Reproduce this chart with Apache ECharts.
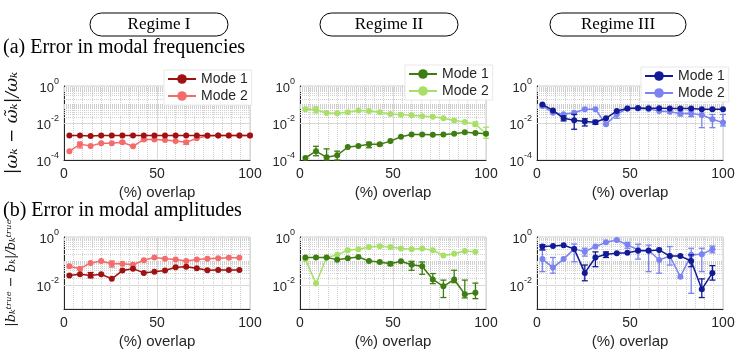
<!DOCTYPE html>
<html>
<head>
<meta charset="utf-8">
<script src="https://cdn.jsdelivr.net/npm/echarts@6/dist/echarts.min.js"></script>
<style>
  html, body { margin: 0; padding: 0; background: #fff; }
  #chart { width: 747px; height: 363px; }
</style>
</head>
<body>
<div id="chart"></div>
<script>
// x positions (% overlap)
const overlapFreq = [2.9, 8.6, 14.3, 20.0, 25.7, 31.4, 37.1, 42.9, 48.6, 54.3, 60.0, 65.7, 71.4, 77.1, 82.9, 88.6, 94.3, 100];
const overlapAmp = [2.9, 8.6, 14.3, 20.0, 25.7, 31.4, 37.1, 42.9, 48.6, 54.3, 60.0, 65.7, 71.4, 77.1, 82.9, 88.6, 94.3];

const regimes = ['Regime I', 'Regime II', 'Regime III'];
const modeNames = ['Mode 1', 'Mode 2'];

// (a) error in modal frequencies
const freqR1M1 = [0.0021, 0.0021, 0.002, 0.0021, 0.0021, 0.0021, 0.0021, 0.0021, 0.0021, 0.0021, 0.0021, 0.0021, 0.0021, 0.0021, 0.0021, 0.0021, 0.0021, 0.0021];
const freqR1M2 = [0.0003, 0.0007, 0.00058, 0.0008, 0.0008, 0.0009, 0.00055, 0.0013, 0.0013, 0.0012, 0.00105, 0.0009, 0.0015, 0.002, 0.0021, 0.0021, 0.0021, 0.0021];
const freqR2M1 = [0.00013, 0.0003, 0.00014, 0.00018, 0.0005, 0.00057, 0.0007, 0.0007, 0.00105, 0.0018, 0.0024, 0.0024, 0.0023, 0.0024, 0.0026, 0.0032, 0.0029, 0.0026];
const freqR2M2 = [0.055, 0.052, 0.035, 0.034, 0.038, 0.048, 0.044, 0.038, 0.031, 0.028, 0.026, 0.023, 0.022, 0.018, 0.0135, 0.0115, 0.0085, 0.0027];
const freqR3M1 = [0.10, 0.048, 0.018, 0.014, 0.012, 0.011, 0.018, 0.045, 0.06, 0.065, 0.062, 0.062, 0.06, 0.06, 0.06, 0.055, 0.055, 0.055];
const freqR3M2 = [0.083, 0.036, 0.03, 0.036, 0.055, 0.055, 0.0085, 0.03, 0.06, 0.06, 0.058, 0.045, 0.04, 0.033, 0.033, 0.027, 0.016, 0.0105];

// (b) error in modal amplitudes
const ampR1M1 = [0.025, 0.028, 0.025, 0.028, 0.018, 0.04, 0.048, 0.032, 0.036, 0.04, 0.055, 0.058, 0.05, 0.041, 0.042, 0.042, 0.042];
const ampR1M2 = [0.06, 0.048, 0.083, 0.1, 0.077, 0.077, 0.07, 0.107, 0.14, 0.125, 0.115, 0.1, 0.115, 0.125, 0.13, 0.135, 0.135];
const ampR2M1 = [0.14, 0.14, 0.14, 0.114, 0.13, 0.147, 0.1, 0.091, 0.077, 0.097, 0.07, 0.06, 0.017, 0.0088, 0.017, 0.0041, 0.0047];
const ampR2M2 = [0.117, 0.0115, 0.14, 0.18, 0.28, 0.31, 0.38, 0.41, 0.38, 0.33, 0.31, 0.33, 0.28, 0.17, 0.2, 0.26, 0.24];
const ampR3M1 = [0.4, 0.42, 0.45, 0.32, 0.032, 0.14, 0.19, 0.21, 0.22, 0.27, 0.27, 0.29, 0.16, 0.16, 0.1, 0.0066, 0.032];
const ampR3M2 = [0.12, 0.053, 0.12, 0.32, 0.245, 0.4, 0.6, 0.75, 0.47, 0.29, 0.28, 0.11, 0.16, 0.022, 0.18, 0.19, 0.31];

// error bars: [point index, low, high]
const errFreqR1M1 = [];
const errFreqR1M2 = [[1, 0.00045, 0.00091], [5, 0.0008, 0.00105], [7, 0.0011, 0.0015], [11, 0.0007, 0.0011]];
const errFreqR2M1 = [[1, 0.00017, 0.00055], [2, 0.0001, 0.0004], [3, 0.0001, 0.0003], [6, 0.00046, 0.00091], [7, 0.0006, 0.0008]];
const errFreqR2M2 = [[1, 0.035, 0.074], [16, 0.0068, 0.0115], [17, 0.0015, 0.0059]];
const errFreqR3M1 = [[2, 0.013, 0.024], [3, 0.0046, 0.029], [4, 0.0069, 0.017], [5, 0.0085, 0.014]];
const errFreqR3M2 = [[7, 0.018, 0.045], [13, 0.024, 0.045], [14, 0.022, 0.045], [15, 0.0056, 0.029], [16, 0.0056, 0.029], [17, 0.0069, 0.029]];
const errAmpR1M1 = [[2, 0.02, 0.033]];
const errAmpR1M2 = [[4, 0.056, 0.1]];
const errAmpR2M1 = [[8, 0.065, 0.09], [10, 0.041, 0.097], [11, 0.028, 0.091], [12, 0.0114, 0.03], [13, 0.003, 0.016], [14, 0.0125, 0.041], [15, 0.0029, 0.016], [16, 0.0027, 0.012]];
const errAmpR2M2 = [];
const errAmpR3M1 = [[0, 0.29, 0.48], [4, 0.015, 0.068], [5, 0.058, 0.24], [6, 0.14, 0.24], [14, 0.058, 0.18], [15, 0.003, 0.018], [16, 0.016, 0.064]];
const errAmpR3M2 = [[0, 0.036, 0.29], [1, 0.031, 0.14], [3, 0.093, 0.51], [4, 0.16, 0.34], [8, 0.34, 0.6], [9, 0.12, 0.5], [10, 0.036, 0.46], [11, 0.031, 0.34], [12, 0.068, 0.4], [14, 0.0045, 0.34], [15, 0.036, 0.34], [16, 0.22, 0.42]];

const colors = [['#a01212', '#f46b6b'], ['#3e7d12', '#a8e067'], ['#121a96', '#7a83ef']];

const panels = [
  { row: 0, col: 0, xs: overlapFreq, m1: freqR1M1, m2: freqR1M2, e1: errFreqR1M1, e2: errFreqR1M2 },
  { row: 0, col: 1, xs: overlapFreq, m1: freqR2M1, m2: freqR2M2, e1: errFreqR2M1, e2: errFreqR2M2 },
  { row: 0, col: 2, xs: overlapFreq, m1: freqR3M1, m2: freqR3M2, e1: errFreqR3M1, e2: errFreqR3M2 },
  { row: 1, col: 0, xs: overlapAmp, m1: ampR1M1, m2: ampR1M2, e1: errAmpR1M1, e2: errAmpR1M2 },
  { row: 1, col: 1, xs: overlapAmp, m1: ampR2M1, m2: ampR2M2, e1: errAmpR2M1, e2: errAmpR2M2 },
  { row: 1, col: 2, xs: overlapAmp, m1: ampR3M1, m2: ampR3M2, e1: errAmpR3M1, e2: errAmpR3M2 }
];

const gridLefts = [64, 300, 537];
const rowTop = [86, 237];
const rowHeight = [74, 72];
const rowMinExp = [-4, -3];
const legendPos = [[164, 70], [405, 65], [641, 67]];

const sans = 'Liberation Sans';
const serif = 'Liberation Serif';
const textColor = '#262626';

// horizontal log grid lines (decades + 2..9 minor)
function logGridLines(minExp) {
  const out = [];
  for (let e = minExp; e < 0; e++) {
    if (e !== minExp) {
      const major = (e % 2 === 0);
      out.push({ yAxis: Math.pow(10, e), lineStyle: major ? { color: '#d9d9d9', type: 'solid', width: 1 } : { color: '#cccccc', type: 'dotted', width: 1 } });
    }
    for (let m = 2; m <= 9; m++) {
      out.push({ yAxis: m * Math.pow(10, e), lineStyle: { color: '#d0d0d0', type: 'dotted', width: 1 } });
    }
  }
  return out;
}

function errSeries(xs, errs, color, gi, z) {
  return {
    type: 'custom', xAxisIndex: gi, yAxisIndex: gi, z: z, silent: true,
    data: errs.map(e => [xs[e[0]], e[1], e[2]]),
    encode: { x: 0, y: [1, 2] },
    renderItem: function (params, api) {
      const x = api.value(0);
      const p1 = api.coord([x, api.value(1)]);
      const p2 = api.coord([x, api.value(2)]);
      const w = 3;
      const st = { stroke: color, lineWidth: 1.3 };
      return { type: 'group', children: [
        { type: 'line', shape: { x1: p1[0], y1: p1[1], x2: p2[0], y2: p2[1] }, style: st },
        { type: 'line', shape: { x1: p1[0] - w, y1: p1[1], x2: p1[0] + w, y2: p1[1] }, style: st },
        { type: 'line', shape: { x1: p2[0] - w, y1: p2[1], x2: p2[0] + w, y2: p2[1] }, style: st }
      ] };
    }
  };
}

const grid = [], xAxis = [], yAxis = [], series = [], legend = [], graphic = [];

panels.forEach((p, gi) => {
  grid.push({ left: gridLefts[p.col], top: rowTop[p.row], width: 186, height: rowHeight[p.row],
    show: true, borderColor: '#cccccc', borderWidth: 1, containLabel: false });
  xAxis.push({
    type: 'value', gridIndex: gi, min: 0, max: 100, interval: 50,
    name: '(%) overlap', nameLocation: 'middle', nameGap: 25,
    nameTextStyle: { fontFamily: sans, fontSize: 15, color: textColor },
    axisLine: { lineStyle: { color: textColor, width: 1 } },
    axisTick: { show: false },
    axisLabel: { fontFamily: sans, fontSize: 14, color: textColor, margin: 7 },
    splitLine: { show: true, lineStyle: { color: '#d9d9d9' } },
    minorTick: { show: false, splitNumber: 10 },
    minorSplitLine: { show: true, lineStyle: { color: '#d0d0d0', type: 'dotted' } }
  });
  yAxis.push({
    type: 'log', logBase: 10, gridIndex: gi, min: Math.pow(10, rowMinExp[p.row]), max: 1,
    name: p.col === 0 ? (p.row === 0 ? '|ω\u2096 − ω\u0303\u2096|/ω\u2096' : '|b\u2096\u1d57\u02b3\u1d58\u1d49 − b\u2096|/b\u2096\u1d57\u02b3\u1d58\u1d49') : '',
    nameLocation: 'middle', nameGap: p.row === 0 ? 43 : 46,
    nameTextStyle: { fontFamily: 'DejaVu Serif', fontStyle: 'italic', fontSize: p.row === 0 ? 17 : 13, color: '#111' },
    axisLine: { show: true, lineStyle: { color: textColor, width: 1 } },
    axisTick: { show: false },
    splitLine: { show: false },
    axisLabel: {
      margin: 5,
      formatter: function (v) {
        const e = Math.round(Math.log10(v));
        return (e % 2 === 0) ? '{b|10}{s|' + e + '}' : '';
      },
      rich: {
        b: { fontFamily: sans, fontSize: 13, color: textColor, lineHeight: 18, verticalAlign: 'bottom' },
        s: { fontFamily: sans, fontSize: 9, color: textColor, lineHeight: 10, verticalAlign: 'top' }
      }
    }
  });
  const c = colors[p.col];
  const n1 = 'R' + gi + ' ' + modeNames[0];
  const n2 = 'R' + gi + ' ' + modeNames[1];
  // background grid lines
  series.push({ type: 'line', xAxisIndex: gi, yAxisIndex: gi, data: [], z: 1, silent: true,
    markLine: { z: 1, silent: true, symbol: 'none', label: { show: false }, animation: false, data: logGridLines(rowMinExp[p.row]) } });
  series.push({ name: n2, type: 'line', xAxisIndex: gi, yAxisIndex: gi, z: 3,
    data: p.xs.map((x, i) => [x, p.m2[i]]), symbol: 'circle', symbolSize: 6,
    lineStyle: { color: c[1], width: 1.5 }, itemStyle: { color: c[1] } });
  series.push(errSeries(p.xs, p.e2, c[1], gi, 3));
  series.push({ name: n1, type: 'line', xAxisIndex: gi, yAxisIndex: gi, z: 5,
    data: p.xs.map((x, i) => [x, p.m1[i]]), symbol: 'circle', symbolSize: 6,
    lineStyle: { color: c[0], width: 1.5 }, itemStyle: { color: c[0] } });
  series.push(errSeries(p.xs, p.e1, c[0], gi, 5));
  if (p.row === 0) {
    legend.push({
      z: 20, orient: 'vertical', left: legendPos[p.col][0], top: legendPos[p.col][1],
      data: [n1, n2], itemWidth: 28, itemHeight: 12, itemGap: 3,
      padding: [2, 4, 2, 3], backgroundColor: '#ffffff', borderColor: '#e8e8e8', borderWidth: 1,
      textStyle: { fontFamily: sans, fontSize: 14, color: textColor },
      formatter: name => name.slice(3), selectedMode: false
    });
  }
});

// regime headers
const headerBoxes = [[90, 138], [320, 138], [550, 136]];
regimes.forEach((r, i) => {
  graphic.push({ type: 'rect', shape: { x: headerBoxes[i][0], y: 13, width: headerBoxes[i][1], height: 23, r: 11.5 },
    style: { fill: '#fff', stroke: '#000', lineWidth: 1 } });
  graphic.push({ type: 'text', style: { x: headerBoxes[i][0] + headerBoxes[i][1] / 2, y: 25, text: r,
    fontFamily: serif, fontSize: 17, fill: '#000', align: 'center', verticalAlign: 'middle' } });
});
graphic.push({ type: 'text', style: { x: 3, y: 48, text: '(a) Error in modal frequencies',
  fontFamily: serif, fontSize: 20, fill: '#000', align: 'left', verticalAlign: 'middle' } });
graphic.push({ type: 'text', style: { x: 3, y: 211, text: '(b) Error in modal amplitudes',
  fontFamily: serif, fontSize: 20, fill: '#000', align: 'left', verticalAlign: 'middle' } });

const chart = echarts.init(document.getElementById('chart'));
chart.setOption({
  animation: false,
  backgroundColor: '#fff',
  grid: grid, xAxis: xAxis, yAxis: yAxis, legend: legend, series: series, graphic: graphic
});
</script>
</body>
</html>
